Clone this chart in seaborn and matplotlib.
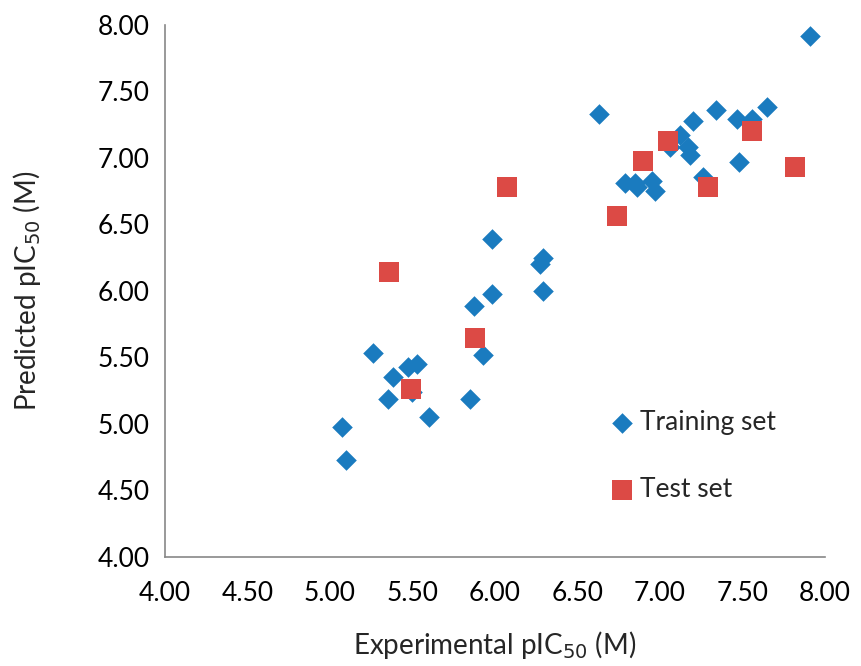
import numpy as np
import pandas as pd
import matplotlib
matplotlib.use('Agg')
import matplotlib.pyplot as plt
import seaborn as sns

# training set: experimental vs predicted pIC50
train_exp = [7.91, 6.63, 7.20, 7.34, 7.47, 7.56, 7.65, 7.48,
             7.06, 7.12, 7.17, 7.18, 6.79, 6.85, 6.86, 6.95, 6.97, 7.26,
             5.98, 6.29, 6.27, 6.29, 5.98, 5.87, 5.93, 5.85,
             5.26, 5.38, 5.47, 5.53, 5.50, 5.35, 5.60, 5.07, 5.10]
train_pred = [7.92, 7.33, 7.28, 7.36, 7.29, 7.29, 7.38, 6.97,
              7.08, 7.17, 7.08, 7.02, 6.81, 6.81, 6.78, 6.83, 6.75, 6.86,
              6.39, 6.25, 6.20, 6.00, 5.98, 5.89, 5.52, 5.19,
              5.53, 5.35, 5.43, 5.45, 5.24, 5.19, 5.05, 4.98, 4.73]

# test set
test_exp = [7.05, 7.56, 6.90, 7.82, 7.29, 6.74, 6.07, 5.36, 5.88, 5.49]
test_pred = [7.13, 7.20, 6.98, 6.93, 6.78, 6.56, 6.78, 6.14, 5.65, 5.26]

ticks = [4.00, 4.50, 5.00, 5.50, 6.00, 6.50, 7.00, 7.50, 8.00]

sns.set_style('white')
plt.rcParams['font.family'] = ['Lato', 'DejaVu Sans']

fig = plt.figure(figsize=(8.62, 6.66), dpi=100)
ax = fig.add_axes([0.1914, 0.1637, 0.7656, 0.7988])

sns.scatterplot(x=train_exp, y=train_pred, marker='D', s=110, color='#1a7bbf',
                linewidth=0, label='Training set', ax=ax, zorder=2)
sns.scatterplot(x=test_exp, y=test_pred, marker='s', s=200, color='#dc4a45',
                linewidth=0, label='Test set', ax=ax, zorder=3)

ax.set_xlim(4, 8)
ax.set_ylim(4, 8)
ax.set_xticks(ticks)
ax.set_yticks(ticks)
ax.set_xticklabels([f'{t:.2f}' for t in ticks])
ax.set_yticklabels([f'{t:.2f}' for t in ticks])
ax.tick_params(axis='both', labelsize=19, colors='#888888', labelcolor='black',
               direction='out', length=6, width=1.2)
ax.tick_params(axis='x', pad=11)
ax.tick_params(axis='y', pad=5)

sns.despine(ax=ax)
for side in ['left', 'bottom']:
    ax.spines[side].set_color('#888888')
    ax.spines[side].set_linewidth(1.2)

ax.set_xlabel('Experimental pIC$_{50}$ (M)', fontsize=20, labelpad=17)
ax.set_ylabel('Predicted pIC$_{50}$ (M)', fontsize=20, labelpad=39)

leg = ax.legend(loc='upper left', bbox_to_anchor=(0.636, 0.321), frameon=False,
                fontsize=19, labelspacing=1.6, handletextpad=0.2,
                handlelength=1.0)

fig.savefig('out.png', dpi=100)
